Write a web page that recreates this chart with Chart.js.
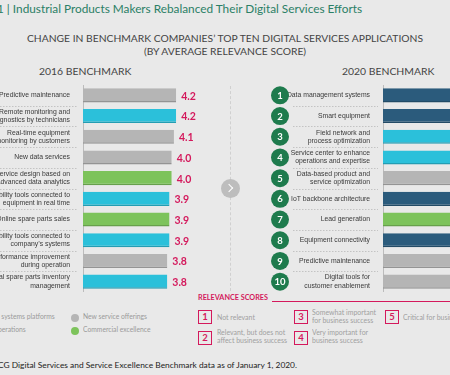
<!DOCTYPE html>
<html>
<head>
<meta charset="utf-8">
<script src="https://cdn.jsdelivr.net/npm/chart.js@4.4.1/dist/chart.umd.min.js"></script>
<style>
  html, body { margin: 0; padding: 0; }
  body {
    width: 450px; height: 375px; overflow: hidden; position: relative;
    background: #e9e9e9; font-family: Lato, sans-serif; color: #444;
  }
  .abs { position: absolute; white-space: nowrap; }
  #title { left: -3px; top: 1px; font-size: 11.8px; color: #2b8066; }
  .sub { left: 0; width: 450px; text-align: center; font-size: 10.3px; color: #444; }
  .bench { font-size: 10.4px; color: #444; }
  canvas { position: absolute; }
  #divider { left: 230px; top: 86px; height: 205px; border-left: 1px dashed #d0d0d0; }
  #arrow { left: 221px; top: 179px; width: 19px; height: 19px; border-radius: 50%; background: #bdbdbd; }
  #arrow::after {
    content: ""; position: absolute; left: 5px; top: 6px; width: 5px; height: 5px;
    border-top: 1.3px solid #fff; border-right: 1.3px solid #fff; transform: rotate(45deg);
  }
  .leg { font-size: 9px; color: #9a9a9a; transform-origin: 0 0; }
  .dot { width: 8px; height: 8px; border-radius: 50%; }
  #relTitle { left: 198px; top: 293px; font-size: 9.3px; font-weight: bold; color: #d4195c; transform-origin: 0 0; }
  #relLine { left: 272px; top: 301px; width: 190px; border-top: 1px solid #d4195c; }
  .box {
    width: 12px; height: 12px; border: 1px solid #d4195c; color: #d4195c;
    font-size: 9.5px; font-weight: bold; text-align: center; line-height: 12px;
  }
  .rel { font-size: 10px; color: #a0a0a0; line-height: 12px; transform-origin: 0 0; }
  #foot { left: -2px; top: 360px; font-size: 8.4px; color: #222; }
</style>
</head>
<body>
<div class="abs" id="title">1 | Industrial Products Makers Rebalanced Their Digital Services Efforts</div>
<div class="abs sub" style="top:32px">CHANGE IN BENCHMARK COMPANIES’ TOP TEN DIGITAL SERVICES APPLICATIONS</div>
<div class="abs sub" style="top:45px">(BY AVERAGE RELEVANCE SCORE)</div>
<div class="abs bench" style="left:39px;top:65px">2016 BENCHMARK</div>
<div class="abs bench" style="left:342px;top:65px">2020 BENCHMARK</div>

<canvas id="chart2016" width="205" height="207" style="left:0;top:85px"></canvas>
<canvas id="chart2020" width="300" height="207" style="left:265px;top:85px"></canvas>
<div class="abs" id="divider"></div>
<div class="abs" id="arrow"></div>

<div class="abs leg" style="left:-2px;top:312px">l systems platforms</div>
<div class="abs leg" style="left:-2px;top:325px">perations</div>
<div class="abs dot" style="left:71px;top:314px;background:#b5b5b5"></div>
<div class="abs leg" id="legRef" style="left:83px;top:312px">New service offerings</div>
<div class="abs dot" style="left:71px;top:327px;background:#7dc35b"></div>
<div class="abs leg" style="left:83px;top:325px">Commercial excellence</div>

<div class="abs" id="relTitle">RELEVANCE SCORES</div>
<div class="abs" id="relLine"></div>
<div class="abs box" style="left:198px;top:310px">1</div>
<div class="abs rel" style="left:217px;top:313px">Not relevant</div>
<div class="abs box" style="left:198px;top:331px">2</div>
<div class="abs rel" style="left:217px;top:328px">Relevant, but does not<br>affect business success</div>
<div class="abs box" style="left:294px;top:310px">3</div>
<div class="abs rel" id="relRef" style="left:312px;top:308px">Somewhat important<br>for business success</div>
<div class="abs box" style="left:294px;top:331px">4</div>
<div class="abs rel" style="left:312px;top:328px">Very important for<br>business success</div>
<div class="abs box" style="left:385px;top:310px">5</div>
<div class="abs rel" style="left:403px;top:313px">Critical for business success</div>

<div class="abs" id="foot">CG Digital Services and Service Excellence Benchmark data as of January 1, 2020.</div>

<script>
// colours per segment
const GRAY = '#b5b5b5';
const CYAN = '#2bc0da';
const GREEN = '#7dc35b';
const NAVY = '#2b5b7c';
const PINK = '#d4195c';
const LABEL_FONT = '"Liberation Sans Narrow", "Liberation Sans", sans-serif';

// 2016 benchmark
const labels2016 = [
  'Predictive maintenance',
  ['Remote monitoring and', 'diagnostics by technicians'],
  ['Real-time equipment', 'monitoring by customers'],
  'New data services',
  ['Service design based on', 'advanced data analytics'],
  ['Mobility tools connected to', 'equipment in real time'],
  'Online spare parts sales',
  ['Mobility tools connected to', 'company’s systems'],
  ['Performance improvement', 'during operation'],
  ['Digital spare parts inventory', 'management']
];
const values2016 = [4.2, 4.2, 4.1, 4.0, 4.0, 3.9, 3.9, 3.9, 3.8, 3.8];
const colors2016 = [GRAY, CYAN, GRAY, GRAY, GREEN, CYAN, GREEN, CYAN, GRAY, CYAN];

// 2020 benchmark (values cut off in the picture, estimated)
const labels2020 = [
  'Data management systems',
  'Smart equipment',
  ['Field network and', 'process optimization'],
  ['Service center to enhance', 'operations and expertise'],
  ['Data-based product and', 'service optimization'],
  'IoT backbone architecture',
  'Lead generation',
  'Equipment connectivity',
  'Predictive maintenance',
  ['Digital tools for', 'customer enablement']
];
const values2020 = [4.5, 4.4, 4.4, 4.3, 4.3, 4.2, 4.2, 4.2, 4.1, 4.1];
const colors2020 = [NAVY, NAVY, CYAN, CYAN, GRAY, NAVY, GREEN, NAVY, GRAY, GRAY];

// shrink a group of text blocks so one of them has the width seen in the picture
function fitGroup(selector, refEl, target) {
  const k = target / refEl.getBoundingClientRect().width;
  document.querySelectorAll(selector).forEach(el => { el.style.transform = `scale(${k})`; });
}
fitGroup('.rel', document.getElementById('relRef'), 64);
fitGroup('.leg', document.getElementById('legRef'), 64);
fitGroup('#relTitle', document.getElementById('relTitle'), 70);

// label size picked so "Predictive maintenance" is as wide as in the picture
const measure = document.createElement('canvas').getContext('2d');
measure.font = '10px ' + LABEL_FONT;
const labelSize = 10 * 71 / measure.measureText('Predictive maintenance').width;

function darker(hex) {
  const n = parseInt(hex.slice(1), 16);
  const f = c => Math.round(c * 0.82);
  return `rgb(${f(n >> 16)}, ${f((n >> 8) & 255)}, ${f(n & 255)})`;
}

// score printed at the end of every bar
const valueLabels = {
  id: 'valueLabels',
  afterDatasetsDraw(chart) {
    const ctx = chart.ctx;
    const ds = chart.data.datasets[0];
    ctx.save();
    ctx.fillStyle = PINK;
    ctx.font = 'bold 10.5px Lato, sans-serif';
    ctx.textBaseline = 'middle';
    chart.getDatasetMeta(0).data.forEach((bar, i) => {
      ctx.fillText(ds.data[i].toFixed(1), bar.x + 5, bar.y + 1);
    });
    ctx.restore();
  }
};

// dotted separators between the row labels, plus rank circles
const rowDecor = {
  id: 'rowDecor',
  afterDraw(chart, args, opts) {
    const ctx = chart.ctx;
    const y = chart.scales.y;
    const right = chart.chartArea.left - 5;
    ctx.save();
    ctx.strokeStyle = '#b9b9b9';
    ctx.lineWidth = 0.8;
    ctx.setLineDash([1.5, 1.5]);
    for (let i = 0; i < y.ticks.length - 1; i++) {
      const py = Math.round((y.getPixelForValue(i) + y.getPixelForValue(i + 1)) / 2) + 0.5;
      ctx.beginPath();
      ctx.moveTo(opts.sepStart, py);
      ctx.lineTo(right, py);
      ctx.stroke();
    }
    ctx.setLineDash([]);
    if (opts.ranks) {
      ctx.font = 'bold 9.5px Lato, sans-serif';
      ctx.textAlign = 'center';
      ctx.textBaseline = 'middle';
      for (let i = 0; i < y.ticks.length; i++) {
        const py = y.getPixelForValue(i);
        ctx.fillStyle = '#1e7b4d';
        ctx.beginPath();
        ctx.arc(opts.rankX, py, 9, 0, Math.PI * 2);
        ctx.fill();
        ctx.fillStyle = '#fff';
        ctx.fillText(String(i + 1), opts.rankX, py + 0.5);
      }
    }
    ctx.restore();
  }
};

function makeChart(id, labels, values, colors, axisWidth, max, decor) {
  return new Chart(document.getElementById(id), {
    type: 'bar',
    data: {
      labels: labels,
      datasets: [{
        data: values,
        backgroundColor: colors,
        borderColor: colors.map(darker),
        borderWidth: { bottom: 1.5 },
        borderSkipped: 'start',
        barPercentage: 0.68,
        categoryPercentage: 1
      }]
    },
    options: {
      indexAxis: 'y',
      responsive: false,
      animation: false,
      layout: { padding: 0 },
      plugins: {
        legend: { display: false },
        tooltip: { enabled: false },
        rowDecor: decor
      },
      scales: {
        x: { display: false, min: 0, max: max },
        y: {
          afterFit: scale => {
            scale.width = axisWidth;
            scale.paddingTop = 0;
            scale.paddingBottom = 0;
          },
          grid: { display: false },
          border: { display: true, color: '#bcbcbc', width: 1 },
          ticks: {
            autoSkip: false,
            padding: 5,
            color: '#3a3a3a',
            font: { family: LABEL_FONT, size: labelSize, lineHeight: 1.2 }
          }
        }
      }
    },
    plugins: [valueLabels, rowDecor]
  });
}

makeChart('chart2016', labels2016, values2016, colors2016, 83, 5.5, { sepStart: 0 });
makeChart('chart2020', labels2020, values2020, colors2020, 118, 5, { sepStart: 28, ranks: true, rankX: 15 });
</script>
</body>
</html>
